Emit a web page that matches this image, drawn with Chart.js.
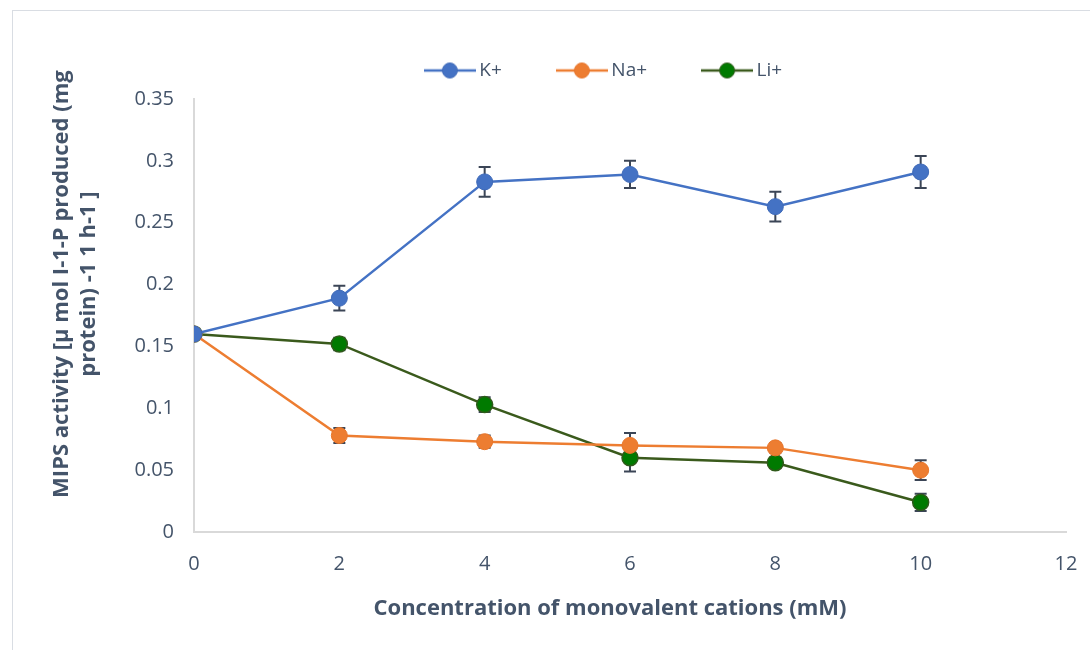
<!DOCTYPE html>
<html lang="en">
<head>
<meta charset="UTF-8">
<script src="https://cdn.jsdelivr.net/npm/chart.js@4/dist/chart.umd.min.js"></script>
<title>MIPS activity chart</title>
<style type="text/css">
    body { margin: 0; background: #fff; }
    #wrap { position: relative; width: 1090px; height: 650px; overflow: hidden; }
    #frame { position: absolute; left: 12px; top: 10px; width: 1100px; height: 700px; border: 1px solid #d9dde3; }
    #chart { position: absolute; left: 0; top: 0; }
</style>
</head>
<body>
<div id="wrap">
    <div id="frame"></div>
    <canvas id="chart" width="1090" height="650"></canvas>
</div>
<script>
// concentrations (mM)
var conc = [0, 2, 4, 6, 8, 10];

var kPlus   = [0.160, 0.189, 0.283, 0.289, 0.263, 0.291];
var kErr    = [0, 0.010, 0.012, 0.011, 0.012, 0.013];
var naPlus  = [0.160, 0.078, 0.073, 0.070, 0.068, 0.050];
var naErr   = [0, 0.006, 0.005, 0.010, 0.004, 0.008];
var liPlus  = [0.160, 0.152, 0.103, 0.060, 0.056, 0.024];
var liErr   = [0, 0.005, 0.006, 0.011, 0.004, 0.007];

var xTicks = [0, 2, 4, 6, 8, 10, 12];
var yTicks = [0, 0.05, 0.1, 0.15, 0.2, 0.25, 0.3, 0.35];

var textColor = '#44546a';
var fontName = "'Open Sans', 'Noto Sans', sans-serif";

// titles sit a little off centre in the original, padded with nbsp
var pad = function (n) { return '\u00a0'.repeat(n); };
var xTitle = 'Concentration of monovalent cations (mM)' + pad(7);
var yTitle = [pad(11) + 'MIPS activity [µ mol I-1-P produced (mg', pad(11) + 'protein) -1 1 h-1 ]'];

function toPoints(vals) {
    return conc.map(function (c, i) { return { x: c, y: vals[i] }; });
}

// little "line with a dot" picture for the legend
function legendMark(lineColor, fillColor, edgeColor) {
    var c = document.createElement('canvas');
    c.width = 52; c.height = 18;
    var g = c.getContext('2d');
    g.strokeStyle = lineColor;
    g.lineWidth = 2.5;
    g.beginPath(); g.moveTo(0, 9); g.lineTo(52, 9); g.stroke();
    g.fillStyle = fillColor;
    g.strokeStyle = edgeColor;
    g.lineWidth = 1;
    g.beginPath(); g.arc(26, 9, 7.5, 0, Math.PI * 2); g.fill(); g.stroke();
    return c;
}

// error bars drawn under the markers
var errorBars = {
    id: 'errorBars',
    beforeDatasetsDraw: function (chart) {
        var ctx = chart.ctx;
        var xs = chart.scales.x, ys = chart.scales.y;
        ctx.save();
        ctx.strokeStyle = '#3b4556';
        ctx.lineWidth = 2;
        chart.data.datasets.forEach(function (ds) {
            ds.data.forEach(function (p, i) {
                var e = ds.errors[i];
                if (!e) return;
                var x = xs.getPixelForValue(p.x);
                var top = ys.getPixelForValue(p.y + e);
                var bot = ys.getPixelForValue(p.y - e);
                ctx.beginPath();
                ctx.moveTo(x, top); ctx.lineTo(x, bot);
                ctx.moveTo(x - 6, top); ctx.lineTo(x + 6, top);
                ctx.moveTo(x - 6, bot); ctx.lineTo(x + 6, bot);
                ctx.stroke();
            });
        });
        ctx.restore();
    }
};

// give the legend some room below it and nudge it left a bit
var legendTweak = {
    id: 'legendTweak',
    afterInit: function (chart) {
        var lg = chart.legend;
        var fit = lg.fit;
        lg.fit = function () {
            fit.call(this);
            this.height += 9;
            if (this.lineWidths) this.lineWidths[0] += 48;
        };
    }
};

Chart.defaults.font.family = fontName;
Chart.defaults.color = textColor;

new Chart(document.getElementById('chart'), {
    type: 'line',
    data: {
        datasets: [
        {
            label: 'K+',
            data: toPoints(kPlus),
            errors: kErr,
            borderColor: '#4472c4',
            backgroundColor: '#4472c4',
            pointBorderColor: '#3f6ab8',
            mark: legendMark('#4472c4', '#4472c4', '#3f6ab8'),
            borderWidth: 2.5,
            pointRadius: 8,
            pointBorderWidth: 1
        },
        {
            label: 'Na+',
            data: toPoints(naPlus),
            errors: naErr,
            borderColor: '#ed7d31',
            backgroundColor: '#ed7d31',
            pointBorderColor: '#e8762b',
            mark: legendMark('#ed7d31', '#ed7d31', '#e8762b'),
            borderWidth: 2.5,
            pointRadius: 8,
            pointBorderWidth: 1
        },
        {
            label: 'Li+',
            data: toPoints(liPlus),
            errors: liErr,
            borderColor: '#3a5a1c',
            backgroundColor: '#007a00',
            pointBorderColor: '#2f5a1a',
            mark: legendMark('#3a5a1c', '#007a00', '#2f5a1a'),
            borderWidth: 2.5,
            pointRadius: 8,
            pointBorderWidth: 1.5
        }]
    },
    options: {
        responsive: false,
        animation: false,
        layout: { padding: { left: 49, right: 24, top: 1, bottom: 24 } },
        plugins: {
            legend: {
                display: true,
                fullSize: false,
                labels: {
                    usePointStyle: true,
                    pointStyleWidth: 40,
                    font: { size: 19 },
                    color: textColor,
                    padding: 60,
                    generateLabels: function (chart) {
                        return chart.data.datasets.map(function (ds, i) {
                            return {
                                text: ds.label,
                                pointStyle: ds.mark,
                                datasetIndex: i,
                                fontColor: textColor,
                                lineWidth: 0
                            };
                        });
                    }
                }
            },
            tooltip: { enabled: false }
        },
        scales: {
            x: {
                type: 'linear',
                min: 0, max: 12,
                afterBuildTicks: function (s) { s.ticks = xTicks.map(function (v) { return { value: v }; }); },
                grid: { display: false, drawTicks: false },
                border: { color: '#d9d9d9', width: 2 },
                ticks: { font: { size: 20 }, color: textColor, padding: 20 },
                title: {
                    display: true,
                    text: xTitle,
                    font: { size: 22, weight: 'bold' },
                    color: textColor,
                    padding: { top: 0, bottom: 4 }
                },
                afterFit: function (s) { s.height = 94; s.paddingRight = 0; }
            },
            y: {
                min: 0, max: 0.35,
                afterBuildTicks: function (s) { s.ticks = yTicks.map(function (v) { return { value: v }; }); },
                grid: { display: false, drawTicks: false },
                border: { color: '#d9d9d9', width: 2 },
                ticks: {
                    font: { size: 20 }, color: textColor, padding: 20,
                    callback: function (v) { return String(+v.toFixed(2)); }
                },
                title: {
                    display: true,
                    text: yTitle,
                    font: { size: 22, weight: 'bold' },
                    color: textColor,
                    padding: 0
                },
                afterFit: function (s) { s.width = 145; }
            }
        }
    },
    plugins: [errorBars, legendTweak]
});
</script>
</body>
</html>
